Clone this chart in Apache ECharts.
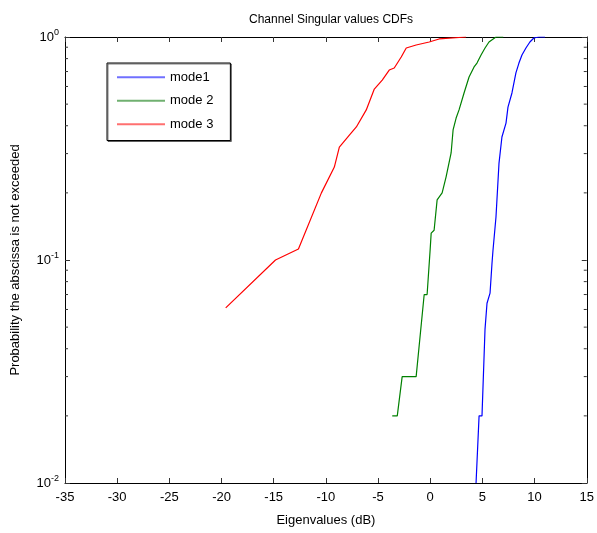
<!DOCTYPE html>
<html>
<head>
<meta charset="utf-8">
<script src="https://cdn.jsdelivr.net/npm/echarts@6/dist/echarts.min.js"></script>
<style>
  html, body { margin: 0; padding: 0; background: #fff; }
  #chart { width: 597px; height: 533px; }
</style>
</head>
<body>
<div id="chart"></div>
<script>
// values
var mode1X = [4.39, 4.68, 4.96, 5.25, 5.44, 5.73, 5.92, 6.01, 6.3, 6.59, 6.87, 7.26, 7.45, 7.83, 8.21, 8.5, 8.79, 9.17, 9.55, 9.93, 10.41, 11];
var mode1Y = [0.01, 0.02, 0.02, 0.049, 0.064, 0.071, 0.097, 0.11, 0.156, 0.272, 0.356, 0.411, 0.485, 0.561, 0.69, 0.764, 0.83, 0.893, 0.95, 0.99, 1, 1];

var mode2X = [-3.64, -3.16, -2.69, -1.35, -0.58, -0.3, -0.01, 0.09, 0.37, 0.66, 1.14, 1.52, 2.0, 2.19, 2.48, 2.76, 3.24, 3.72, 4.2, 4.48, 4.87, 5.25, 5.63, 6.3, 7];
var mode2Y = [0.02, 0.02, 0.03, 0.03, 0.07, 0.07, 0.111, 0.132, 0.136, 0.186, 0.2, 0.236, 0.302, 0.383, 0.433, 0.471, 0.561, 0.662, 0.734, 0.764, 0.83, 0.893, 0.95, 1, 1];

var mode3X = [-19.6, -14.83, -12.63, -10.43, -9.19, -8.71, -7.75, -7.08, -6.13, -5.36, -4.6, -3.93, -3.45, -2.78, -2.3, -1.35, -0.1, 0.85, 3.43];
var mode3Y = [0.061, 0.1, 0.112, 0.2, 0.261, 0.321, 0.363, 0.395, 0.471, 0.584, 0.641, 0.711, 0.726, 0.813, 0.893, 0.921, 0.95, 0.98, 1];

var seriesNames = ['mode1', 'mode 2', 'mode 3'];
var seriesColors = ['#0000ff', '#008000', '#ff0000'];
var legendColors = ['#7070ff', '#70b070', '#ff7070'];
var xMin = -35, xMax = 15, xStep = 5;
var yMin = 0.01, yMax = 1;
// minor log ticks (2..9 per decade)
var minorTicks = [0.02, 0.03, 0.04, 0.05, 0.06, 0.07, 0.08, 0.09, 0.2, 0.3, 0.4, 0.5, 0.6, 0.7, 0.8, 0.9];

function pairs(xs, ys) {
    var out = [];
    for (var i = 0; i < xs.length; i++) {
        out.push([xs[i], ys[i]]);
    }
    return out;
}

var font = 'Liberation Sans, Arial, sans-serif';
var chart = echarts.init(document.getElementById('chart'));

var lineSeries = [[mode1X, mode1Y], [mode2X, mode2Y], [mode3X, mode3Y]].map(function (d, i) {
    return {
        name: seriesNames[i],
        type: 'line',
        data: pairs(d[0], d[1]),
        symbol: 'none',
        lineStyle: { color: seriesColors[i], width: 1.2 },
        itemStyle: { color: seriesColors[i] },
        animation: false,
        z: 3
    };
});

var axisLineStyle = { onZero: false, lineStyle: { color: '#000', width: 1 } };
var tickStyle = { inside: true, length: 5, lineStyle: { color: '#333' } };

var option = {
    animation: false,
    title: {
        text: 'Channel Singular values CDFs',
        left: 326,
        textAlign: 'center',
        top: 9,
        textStyle: { fontFamily: font, fontSize: 12, fontWeight: 'normal', color: '#000' }
    },
    legend: {
        orient: 'vertical',
        left: 107,
        top: 63,
        data: seriesNames.map(function (n, i) {
            return { name: n, icon: 'rect', itemStyle: { color: legendColors[i] } };
        }),
        itemWidth: 48,
        itemHeight: 2,
        itemGap: 9,
        padding: [7, 17, 9, 10],
        backgroundColor: '#fff',
        borderColor: '#000',
        borderWidth: 1,
        shadowColor: 'rgba(0,0,0,0.5)',
        shadowOffsetX: 1,
        shadowOffsetY: 1,
        textStyle: { fontFamily: font, fontSize: 13, lineHeight: 14.5, color: '#000' }
    },
    grid: { left: 65, right: 9, top: 37, bottom: 50 },
    xAxis: [{
        type: 'value',
        min: xMin, max: xMax, interval: xStep,
        name: 'Eigenvalues (dB)',
        nameLocation: 'middle',
        nameGap: 31,
        nameTextStyle: { fontFamily: font, fontSize: 13, color: '#000' },
        axisLine: axisLineStyle,
        axisTick: tickStyle,
        axisLabel: { fontFamily: font, fontSize: 13, color: '#000', margin: 8 },
        splitLine: { show: false }
    }, {
        type: 'value',
        position: 'top',
        min: xMin, max: xMax, interval: xStep,
        axisLine: axisLineStyle,
        axisTick: tickStyle,
        axisLabel: { show: false },
        splitLine: { show: false }
    }],
    yAxis: [{
        type: 'log',
        logBase: 10,
        min: yMin, max: yMax,
        name: 'Probability the abscissa is not exceeded',
        nameLocation: 'middle',
        nameGap: 43,
        nameTextStyle: { fontFamily: font, fontSize: 13, color: '#000' },
        axisLine: axisLineStyle,
        axisTick: tickStyle,
        axisLabel: {
            fontFamily: font, fontSize: 13, color: '#000', margin: 6,
            formatter: function (v) {
                return '10{s|' + Math.round(Math.log10(v)) + '}';
            },
            rich: {
                s: { fontFamily: font, fontSize: 9, color: '#000', padding: [0, 0, 9, 0] }
            }
        },
        splitLine: { show: false }
    }, {
        type: 'log',
        logBase: 10,
        position: 'right',
        min: yMin, max: yMax,
        axisLine: axisLineStyle,
        axisTick: tickStyle,
        axisLabel: { show: false },
        splitLine: { show: false }
    }],
    series: lineSeries.concat([{
        type: 'custom',
        name: 'minor',
        silent: true,
        clip: false,
        data: minorTicks.map(function (v) { return [xMin, v]; }),
        renderItem: function (params, api) {
            var v = api.value(1);
            var l = api.coord([xMin, v]);
            var r = api.coord([xMax, v]);
            var st = { stroke: '#333', lineWidth: 1 };
            return {
                type: 'group',
                children: [
                    { type: 'line', shape: { x1: l[0], y1: l[1], x2: l[0] + 3, y2: l[1] }, style: st },
                    { type: 'line', shape: { x1: r[0], y1: r[1], x2: r[0] - 3, y2: r[1] }, style: st }
                ]
            };
        }
    }])
};

chart.setOption(option);
</script>
</body>
</html>
